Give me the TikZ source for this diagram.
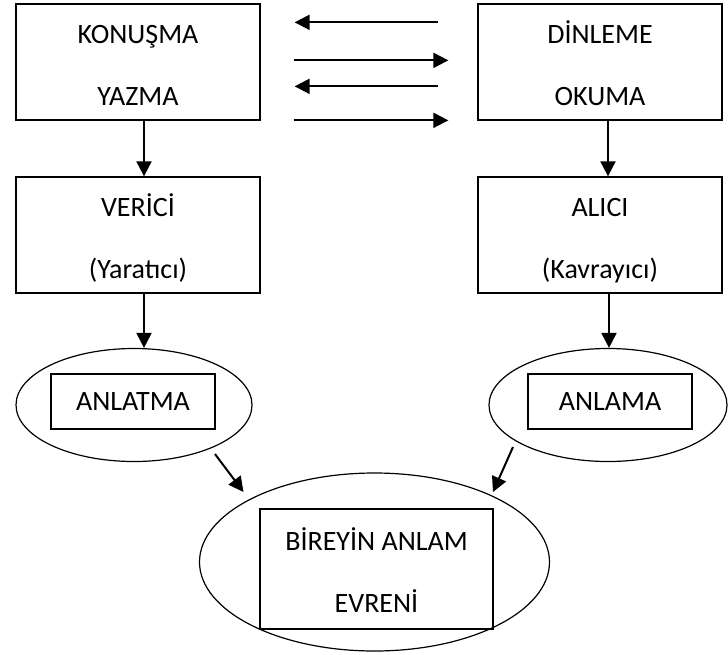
\documentclass[tikz,border=0pt]{standalone}
\usepackage{fontspec}
\setmainfont{Carlito}
\usetikzlibrary{arrows.meta,shapes.geometric}
\newcommand{\topstrut}{\rule{0pt}{31pt}}
\newcommand{\botstrut}{\rule[-7pt]{0pt}{7pt}}

\begin{document}
\begin{tikzpicture}[x=1pt,y=-1pt,
	box/.style={draw, line width=1.3pt, inner sep=0pt, align=center,
		font=\fontsize{28}{62}\selectfont},
	oval/.style={draw, ellipse, line width=1.2pt, inner sep=0pt},
	arr/.style={line width=2pt, -{Triangle[length=15pt,width=15pt]}}]
	\useasboundingbox (0,0) rectangle (728,654);
	\node (konusma) [box, minimum width=244pt, minimum height=116pt] at (138,62) {\topstrut KONUŞMA\\YAZMA\botstrut};
	\node (dinleme) [box, minimum width=244pt, minimum height=116pt] at (600,62) {\topstrut DİNLEME\\OKUMA\botstrut};
	\node (verici) [box, minimum width=244pt, minimum height=116pt] at (138,235) {\topstrut VERİCİ\\(Yaratıcı)\botstrut};
	\node (alici) [box, minimum width=244pt, minimum height=116pt] at (600,235) {\topstrut ALICI\\(Kavrayıcı)\botstrut};
	\node (anlatmaE) [oval, minimum width=236pt, minimum height=113pt] at (134,405) {};
	\node (anlamaE) [oval, minimum width=238pt, minimum height=113pt] at (608,405) {};
	\node (bireyE) [oval, minimum width=350pt, minimum height=178pt] at (374.5,562) {};
	\node (anlatma) [box, minimum width=164pt, minimum height=55pt] at (133,401.5) {ANLATMA};
	\node (anlama) [box, minimum width=164pt, minimum height=55pt] at (610,401.5) {ANLAMA};
	\node (birey) [box, minimum width=233pt, minimum height=120pt] at (376.5,569) {\topstrut BİREYİN ANLAM\\EVRENİ\botstrut};
	\draw[arr] ([xshift=-39pt,yshift=-19pt]dinleme.north west) -- ([xshift=34pt,yshift=-19pt]konusma.north east);
	\draw[arr] ([xshift=33pt,yshift=-57pt]konusma.north east) -- ([xshift=-29pt,yshift=-57pt]dinleme.north west);
	\draw[arr] ([xshift=-39pt,yshift=-83pt]dinleme.north west) -- ([xshift=34pt,yshift=-83pt]konusma.north east);
	\draw[arr] ([xshift=33pt,yshift=-117pt]konusma.north east) -- ([xshift=-29pt,yshift=-117pt]dinleme.north west);
	\draw[arr] ([xshift=6pt]konusma.south) -- ([xshift=6pt]verici.north);
	\draw[arr] ([xshift=8pt]dinleme.south) -- ([xshift=8pt]alici.north);
	\draw[arr] ([xshift=6pt]verici.south) -- ([xshift=6pt]verici.south |- anlatmaE.north);
	\draw[arr] ([xshift=9pt]alici.south) -- ([xshift=9pt]alici.south |- anlamaE.north);
	\draw[arr] ([shift={(81pt,-49pt)}]anlatmaE.center) -- ([shift={(-131pt,70pt)}]bireyE.center);
	\draw[arr] ([shift={(-95pt,-42pt)}]anlamaE.center) -- ([shift={(118.5pt,70pt)}]bireyE.center);
\end{tikzpicture}
\end{document}
